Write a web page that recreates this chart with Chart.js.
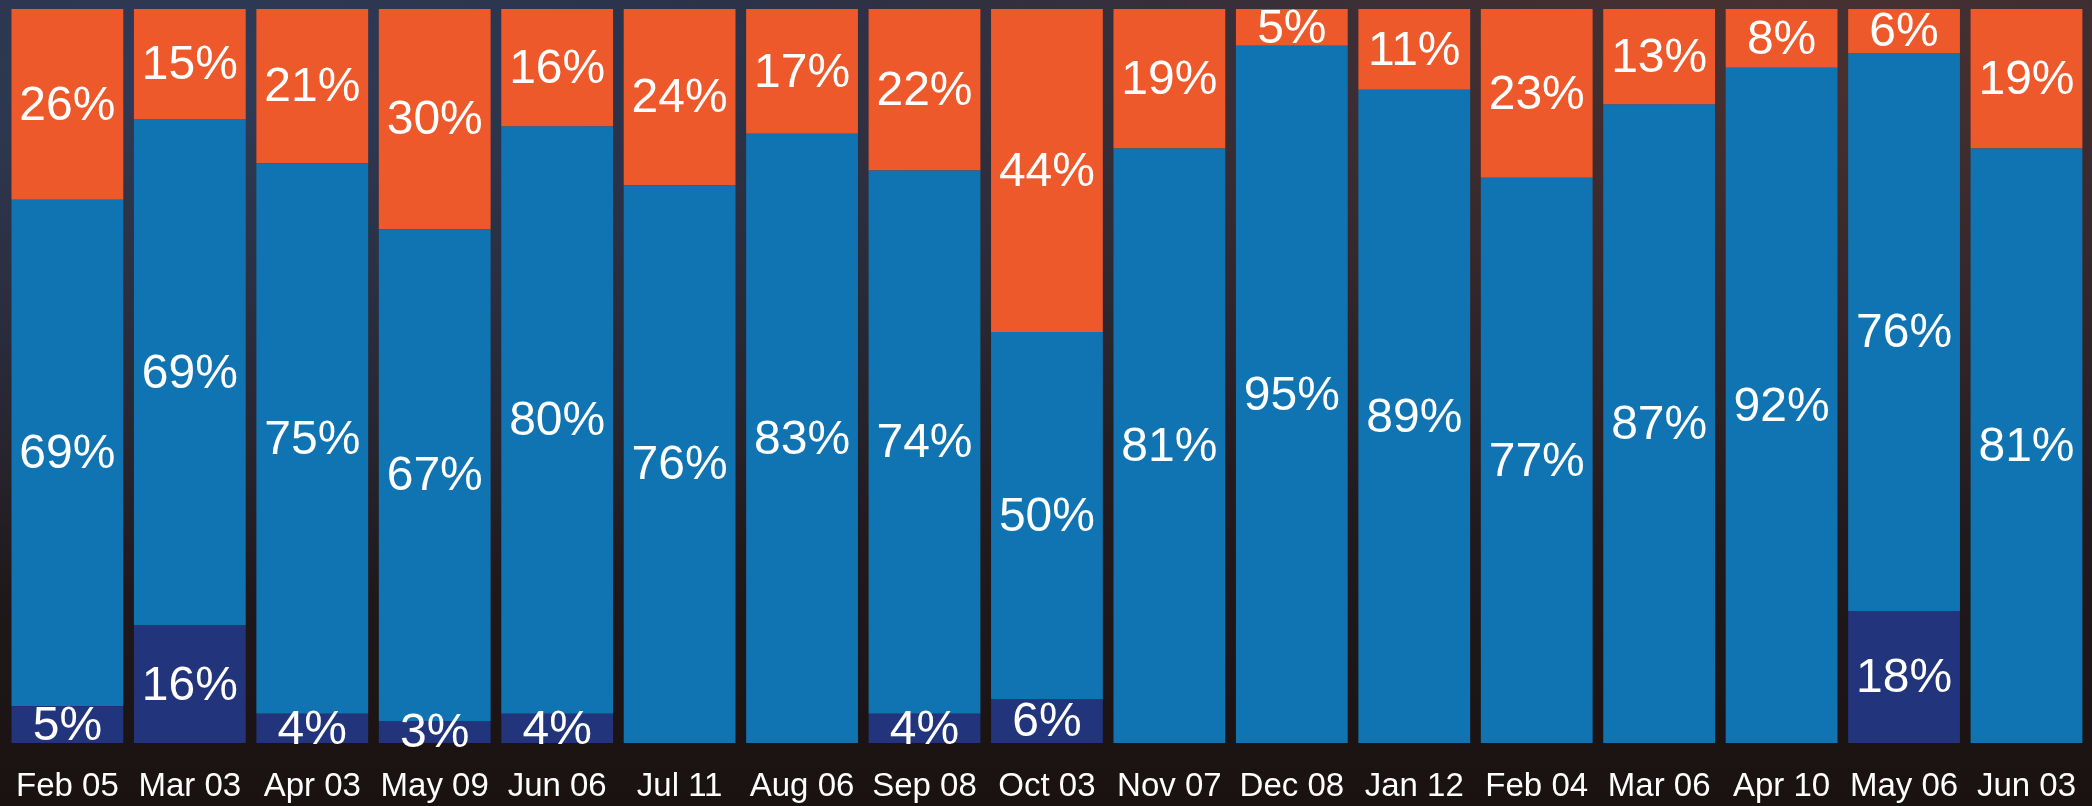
<!DOCTYPE html>
<html>
<head>
<meta charset="utf-8">
<script src="https://cdn.jsdelivr.net/npm/chart.js@4/dist/chart.umd.min.js"></script>
<style>
  html, body { margin: 0; padding: 0; }
  body {
    width: 2092px; height: 806px; overflow: hidden;
    background:
      radial-gradient(ellipse at 85% 5%, rgba(110, 60, 45, 0.55), rgba(0,0,0,0) 45%),
      radial-gradient(ellipse at 10% 10%, rgba(60, 75, 110, 0.6), rgba(0,0,0,0) 50%),
      linear-gradient(to bottom, #1f2536 0%, #231d22 55%, #1a1210 100%);
  }
  #wrap { position: absolute; left: 0; top: 0; width: 2092px; height: 806px; }
</style>
</head>
<body>
<div id="wrap"><canvas id="chart"></canvas></div>
<script>
const categories = ['Feb 05', 'Mar 03', 'Apr 03', 'May 09', 'Jun 06', 'Jul 11', 'Aug 06', 'Sep 08', 'Oct 03',
    'Nov 07', 'Dec 08', 'Jan 12', 'Feb 04', 'Mar 06', 'Apr 10', 'May 06', 'Jun 03'];
const bottomShare = [5, 16, 4, 3, 4, 0, 0, 4, 6, 0, 0, 0, 0, 0, 0, 18, 0];
const middleShare = [69, 69, 75, 67, 80, 76, 83, 74, 50, 81, 95, 89, 77, 87, 92, 76, 81];
const topShare    = [26, 15, 21, 30, 16, 24, 17, 22, 44, 19, 5, 11, 23, 13, 8, 6, 19];

const navy = '#22347b';
const blue = '#1174b2';
const orange = '#ee592b';

// draws "NN%" in the middle of every non-empty segment
const segmentLabels = {
    id: 'segmentLabels',
    afterDatasetsDraw(chart) {
        const ctx = chart.ctx;
        ctx.save();
        ctx.fillStyle = '#ffffff';
        ctx.font = '48px "Liberation Sans", Arial, sans-serif';
        ctx.textAlign = 'center';
        ctx.textBaseline = 'middle';
        chart.data.datasets.forEach((ds, i) => {
            const meta = chart.getDatasetMeta(i);
            meta.data.forEach((bar, j) => {
                const v = ds.data[j];
                if (!v) return;
                const y = (bar.y + bar.base) / 2;
                ctx.fillText(v + '%', bar.x, y + 2);
            });
        });
        ctx.restore();
    }
};

new Chart(document.getElementById('chart'), {
    type: 'bar',
    data: {
        labels: categories,
        datasets: [
            { label: 'bottom', data: bottomShare, backgroundColor: navy },
            { label: 'middle', data: middleShare, backgroundColor: blue },
            { label: 'top', data: topShare, backgroundColor: orange }
        ]
    },
    options: {
        responsive: true,
        maintainAspectRatio: false,
        animation: false,
        layout: { padding: { left: 5, right: 0, top: 9, bottom: 0 } },
        datasets: { bar: { categoryPercentage: 0.913, barPercentage: 1.0, borderWidth: 0 } },
        plugins: {
            legend: { display: false },
            tooltip: { enabled: false }
        },
        scales: {
            x: {
                stacked: true,
                grid: { display: false },
                border: { display: false },
                afterFit(scale) { scale.height = 63; },
                ticks: {
                    color: '#ffffff',
                    padding: 16,
                    maxRotation: 0,
                    autoSkip: false,
                    font: { family: '"Liberation Sans", Arial, sans-serif', size: 33 }
                }
            },
            y: {
                stacked: true,
                display: false,
                min: 0,
                max: 100
            }
        }
    },
    plugins: [segmentLabels]
});
</script>
</body>
</html>
